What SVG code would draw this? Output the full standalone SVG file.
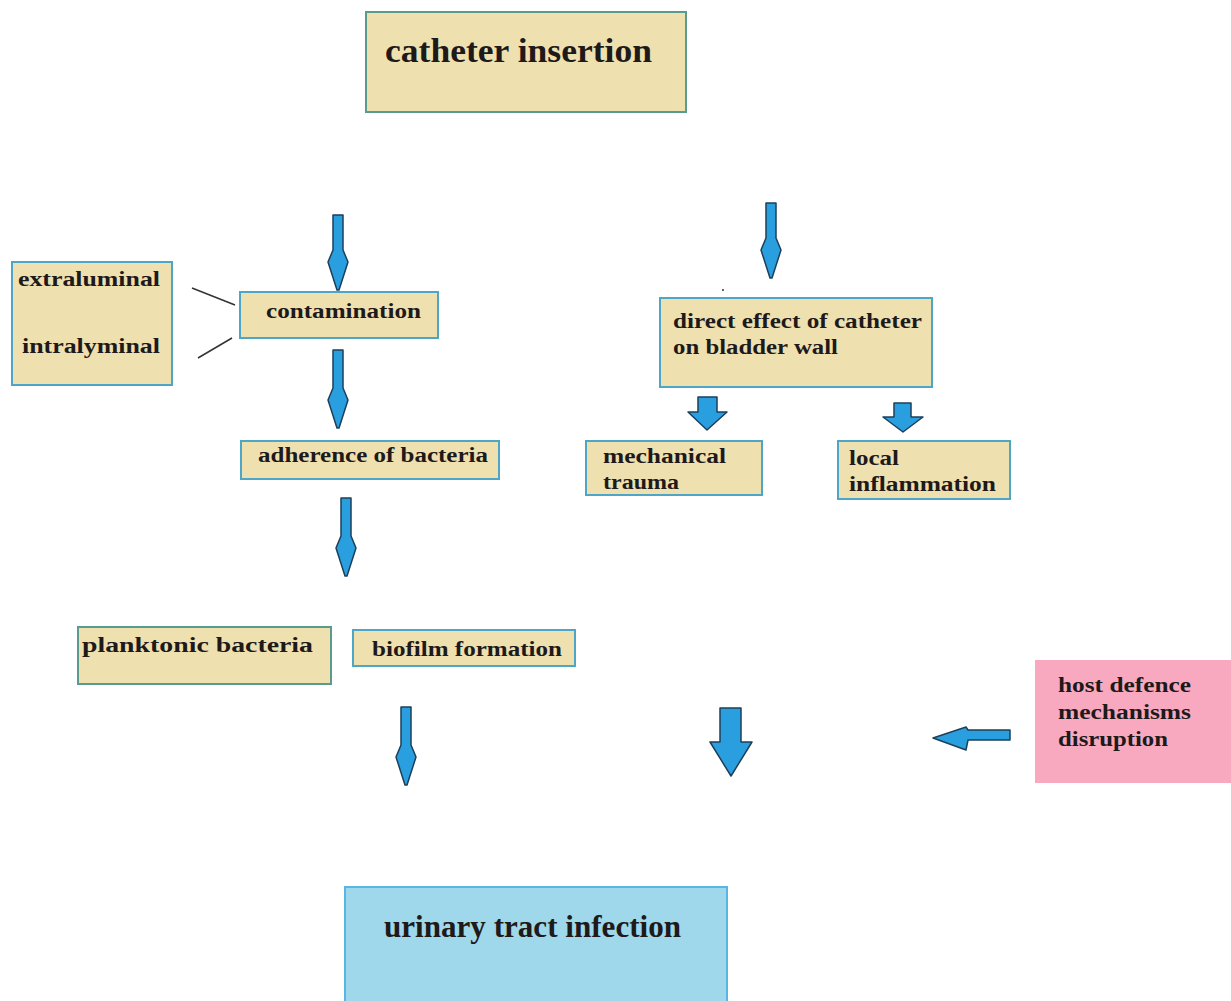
<svg xmlns="http://www.w3.org/2000/svg" width="1231" height="1001" viewBox="0 0 1231 1001">
<style>
.box{fill:#efe0b0;stroke:#4ea6c6;stroke-width:2}
.boxg{fill:#efe0b0;stroke:#5a9c8c;stroke-width:2}
.t{font-family:"Liberation Serif",serif;font-weight:bold;fill:#1e1a1a;font-size:20px}
.big{font-size:34px}
.uti{font-size:32px}
.arr{fill:#2a9fe0;stroke:#1d3f5a;stroke-width:1.5;stroke-linejoin:round}
.ln{stroke:#333;stroke-width:1.5;fill:none}
</style>
<rect width="1231" height="1001" fill="#ffffff"/>

<g id="catheter-insertion">
<rect class="boxg" x="366" y="12" width="320" height="100"/>
<text class="t big" x="385" y="62" textLength="267" lengthAdjust="spacingAndGlyphs">catheter insertion</text>
</g>
<g id="routes">
<rect class="box" x="12" y="262" width="160" height="123"/>
<text class="t" x="18" y="286" textLength="142" lengthAdjust="spacingAndGlyphs">extraluminal</text>
<text class="t" x="22" y="353" textLength="138" lengthAdjust="spacingAndGlyphs">intralyminal</text>
</g>
<g id="contamination">
<rect class="box" x="240" y="292" width="198" height="46"/>
<text class="t" x="266" y="318" textLength="155" lengthAdjust="spacingAndGlyphs">contamination</text>
</g>
<g id="adherence">
<rect class="box" x="241" y="441" width="258" height="38"/>
<text class="t" x="258" y="462" textLength="230" lengthAdjust="spacingAndGlyphs">adherence of bacteria</text>
</g>
<g id="planktonic">
<rect class="boxg" x="78" y="627" width="253" height="57"/>
<text class="t" x="82" y="652" textLength="231" lengthAdjust="spacingAndGlyphs">planktonic bacteria</text>
</g>
<g id="biofilm">
<rect class="box" x="353" y="630" width="222" height="36"/>
<text class="t" x="372" y="656" textLength="190" lengthAdjust="spacingAndGlyphs">biofilm formation</text>
</g>
<g id="direct-effect">
<rect class="box" x="660" y="298" width="272" height="89"/>
<text class="t" x="673" y="328" textLength="249" lengthAdjust="spacingAndGlyphs">direct effect of catheter</text>
<text class="t" x="673" y="354" textLength="165" lengthAdjust="spacingAndGlyphs">on bladder wall</text>
</g>
<g id="mechanical-trauma">
<rect class="box" x="586" y="441" width="176" height="54"/>
<text class="t" x="603" y="463" textLength="123" lengthAdjust="spacingAndGlyphs">mechanical</text>
<text class="t" x="603" y="489" textLength="76" lengthAdjust="spacingAndGlyphs">trauma</text>
</g>
<g id="local-inflammation">
<rect class="box" x="838" y="441" width="172" height="58"/>
<text class="t" x="849" y="465" textLength="50" lengthAdjust="spacingAndGlyphs">local</text>
<text class="t" x="849" y="491" textLength="147" lengthAdjust="spacingAndGlyphs">inflammation</text>
</g>
<g id="host-defence">
<rect x="1035" y="660" width="196" height="123" fill="#f8a9c0"/>
<text class="t" x="1058" y="692" textLength="133" lengthAdjust="spacingAndGlyphs">host defence</text>
<text class="t" x="1058" y="719" textLength="133" lengthAdjust="spacingAndGlyphs">mechanisms</text>
<text class="t" x="1058" y="746" textLength="110" lengthAdjust="spacingAndGlyphs">disruption</text>
</g>
<g id="uti">
<rect x="345" y="887" width="382" height="120" fill="#9fd8ea" stroke="#5ab6e0" stroke-width="2"/>
<text class="t uti" x="384" y="937" textLength="297" lengthAdjust="spacingAndGlyphs">urinary tract infection</text>
</g>

<g id="connectors">
<path class="ln" d="M192 288 L235 305"/>
<path class="ln" d="M198 358 L232 338"/>
<circle cx="723" cy="290" r="1" fill="#333"/>
<path class="arr" d="M333 215 L343 215 L343 250 L348 262 L339 290 L337 290 L328 262 L333 250 Z"/>
<path class="arr" d="M333 350 L343 350 L343 388 L348 400 L339 428 L337 428 L328 400 L333 388 Z"/>
<path class="arr" d="M341 498 L351 498 L351 536 L356 548 L347 576 L345 576 L336 548 L341 536 Z"/>
<path class="arr" d="M401 707 L411 707 L411 745 L416 757 L407 785 L405 785 L396 757 L401 745 Z"/>
<path class="arr" d="M766 203 L776 203 L776 238 L781 250 L772 278 L770 278 L761 250 L766 238 Z"/>
<path class="arr" d="M698 397 L717 397 L717 412 L727 412 L707 430 L688 412 L698 412 Z"/>
<path class="arr" d="M894 403 L911 403 L911 417 L923 417 L903 432 L883 417 L894 417 Z"/>
<path class="arr" d="M720 708 L741 708 L741 742 L752 742 L731 776 L710 742 L720 742 Z"/>
<path class="arr" d="M1010 730 L1010 740 L968 740 L966 750 L933 738 L966 727 L968 730 Z"/>
</g>
</svg>
